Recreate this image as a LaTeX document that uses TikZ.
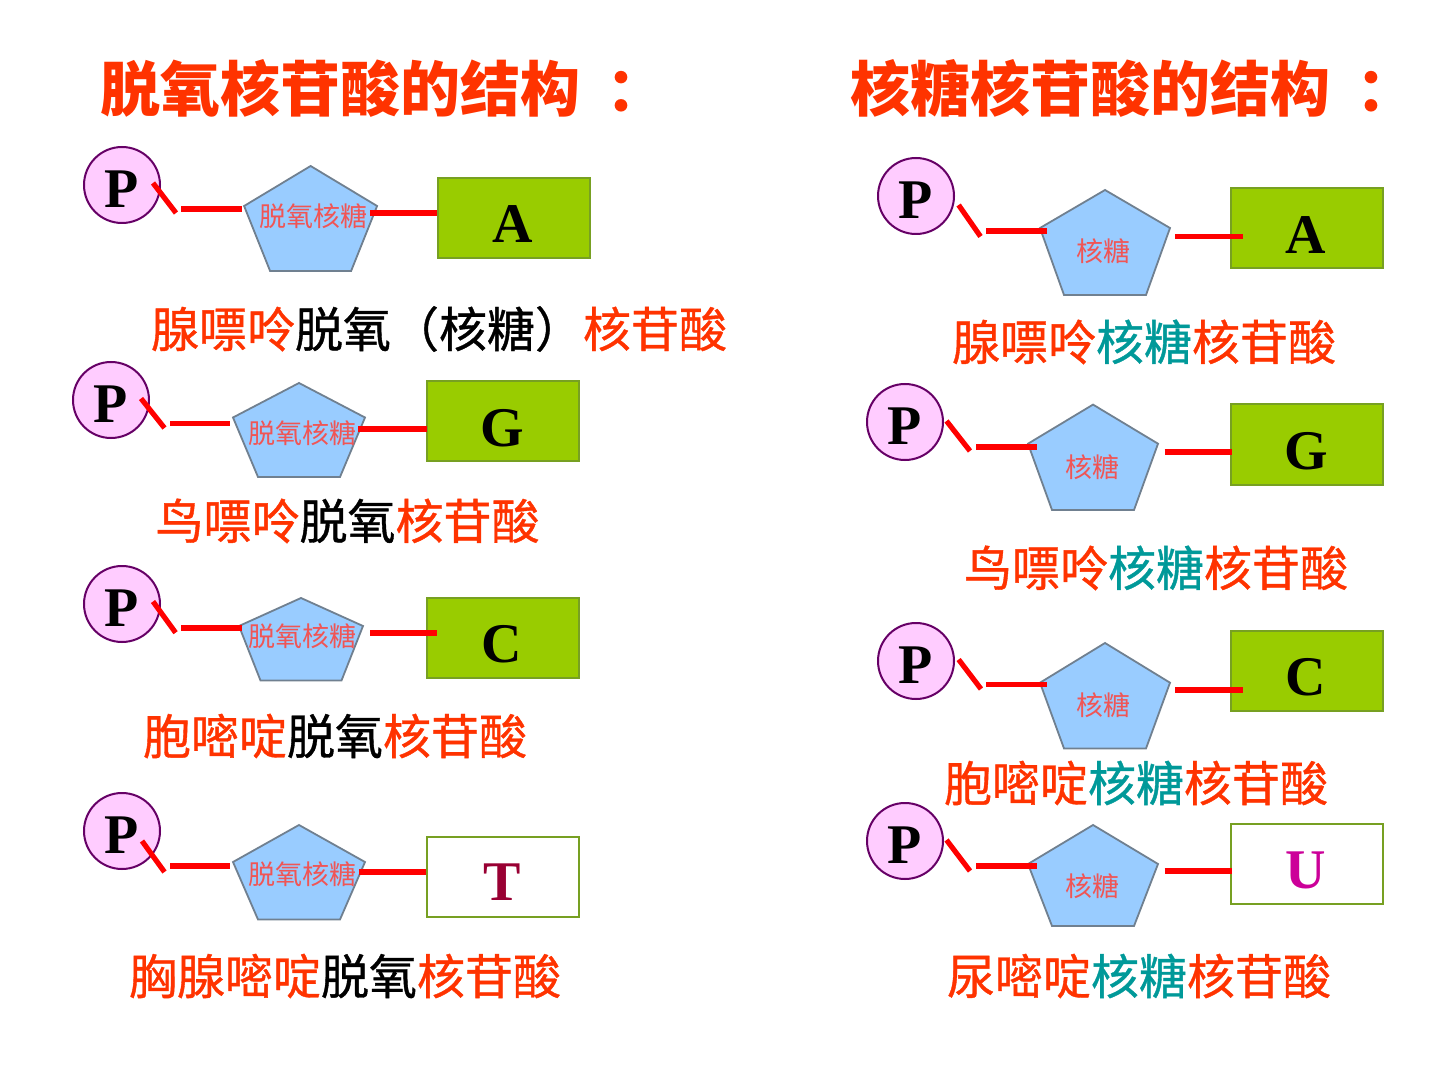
\documentclass[tikz,border=0pt]{standalone}
\usepackage{fontspec}
\setmainfont{Liberation Serif}
\newfontfamily\cjk{Noto Sans CJK SC}
\newfontfamily\cjkcap[FakeBold=0.8]{Noto Sans CJK SC}
\definecolor{tred}{RGB}{255,51,0}
\definecolor{tteal}{RGB}{0,153,153}
\definecolor{sugarlbl}{RGB}{240,85,85}
\definecolor{pfill}{RGB}{255,204,255}
\definecolor{pedge}{RGB}{102,0,102}
\definecolor{sfill}{RGB}{153,204,255}
\definecolor{sedge}{RGB}{112,128,144}
\definecolor{gfill}{RGB}{153,204,0}
\definecolor{gedge}{RGB}{119,160,34}
\definecolor{tcol}{RGB}{153,0,51}
\definecolor{ucol}{RGB}{204,0,153}
\tikzset{
  phos/.style={circle,draw=pedge,fill=pfill,line width=1pt,minimum size=38pt,inner sep=0pt},
  plet/.style={font=\bfseries\fontsize{28}{28}\selectfont,inner sep=0pt},
  bondline/.style={draw=red,line width=2.6pt},
  sugar/.style={draw=sedge,fill=sfill,line width=0.9pt},
  sugtxt/.style={font=\cjk\fontsize{13.5}{14}\selectfont,text=sugarlbl,inner sep=0pt},
  basebox/.style={draw=gedge,fill=gfill,line width=1pt,minimum width=76pt,minimum height=40pt,inner sep=0pt},
  pyrbox/.style={draw=gedge,fill=white,line width=1pt,minimum width=76pt,minimum height=40pt,inner sep=0pt},
  blet/.style={font=\bfseries\fontsize{28}{28}\selectfont,inner sep=0pt},
  captxt/.style={font=\cjkcap\fontsize{24}{26}\selectfont,inner sep=0pt},
  ttl/.style={font=\cjk\bfseries\fontsize{30}{32}\selectfont,text=tred,inner sep=0pt,anchor=west}
}
% bond segment: name, x1, y1, x2, y2
\newcommand\bondseg[5]{\coordinate (#1a) at (#2,#3); \coordinate (#1b) at (#4,#5); \draw[bondline] (#1a) -- (#1b);}
% pentagon: cx, top, side, bottom, half width, half bottom width
\newcommand\pentagon[6]{\draw[sugar] (#1,#2) -- (#1+#5,#3) -- (#1+#6,#4) -- (#1-#6,#4) -- (#1-#5,#3) -- cycle;}
\begin{document}
\begin{tikzpicture}[x=0.5pt,y=-0.5pt]
\useasboundingbox (0,0) rectangle (1440,1080);
\fill[white] (0,0) rectangle (1440,1080);

% titles
\node[ttl] (t1) at (100,88) {脱氧核苷酸的结构\kern13pt：};
\node[ttl] (t2) at (850,88) {核糖核苷酸的结构\kern13pt：};

% ---------- left column ----------
% row 1
\node[basebox] (b1) at (513.5,218) {};
\node[blet] (l1) at (513,224) {A};
\pentagon{310.6}{166}{206}{271}{66.5}{40.5}
\bondseg{s1l}{181}{209}{242}{209}
\bondseg{s1r}{370}{213}{437}{213}
\node[phos] (p1) at (122,185) {};
\node[plet] (q1) at (122,189) {P};
\bondseg{k1}{153}{183}{176}{213}
\node[sugtxt] (g1) at (313,216) {脱氧核糖};
\node[captxt] (c1) at (439,329) {\textcolor{tred}{腺嘌呤}脱氧（核糖）\textcolor{tred}{核苷酸}};

% row 2
\node[basebox] (b2) at (502.5,421.5) {};
\node[blet] (l2) at (502,428) {G};
\pentagon{299}{383}{417.5}{477}{66}{41}
\bondseg{s2l}{170}{423.7}{229.6}{423.7}
\bondseg{s2r}{358}{429}{427}{429}
\node[phos] (p2) at (111,400) {};
\node[plet] (q2) at (111,404) {P};
\bondseg{k2}{141}{398.5}{164.5}{428}
\node[sugtxt] (g2) at (302,433) {脱氧核糖};
\node[captxt] (c2) at (347.5,521) {\textcolor{tred}{鸟嘌呤}脱氧\textcolor{tred}{核苷酸}};

% row 3
\node[basebox] (b3) at (502.7,638) {};
\node[blet] (l3) at (502,644) {C};
\pentagon{301}{598}{626}{680.5}{62}{40.5}
\bondseg{s3l}{181}{628}{242}{628}
\bondseg{s3r}{370}{633}{437}{633}
\node[phos] (p3) at (122,604) {};
\node[plet] (q3) at (122,608) {P};
\bondseg{k3}{153}{601.5}{175.6}{632.7}
\node[sugtxt] (g3) at (302,636) {脱氧核糖};
\node[captxt] (c3) at (335,736) {\textcolor{tred}{胞嘧啶}脱氧\textcolor{tred}{核苷酸}};

% row 4
\node[pyrbox] (b4) at (502.5,876.5) {};
\node[blet,text=tcol] (l4) at (502,882) {T};
\pentagon{299}{825}{862}{919.5}{66}{41}
\bondseg{s4l}{170}{866}{230}{866}
\bondseg{s4r}{359}{872}{426}{872}
\node[phos] (p4) at (122,831) {};
\node[plet] (q4) at (122,835) {P};
\bondseg{k4}{142}{841}{164.5}{872}
\node[sugtxt] (g4) at (302,874) {脱氧核糖};
\node[captxt] (c4) at (345,976) {\textcolor{tred}{胸腺嘧啶}脱氧\textcolor{tred}{核苷酸}};

% ---------- right column ----------
% row 1
\node[basebox] (b5) at (1307,228.5) {};
\node[blet] (l5) at (1306,235) {A};
\pentagon{1105}{190}{228}{295}{65}{41}
\bondseg{s5l}{986}{231}{1047}{231}
\bondseg{s5r}{1175}{236.5}{1243}{236.5}
\node[phos] (p5) at (916,196) {};
\node[plet] (q5) at (916,200) {P};
\bondseg{k5}{958.6}{205}{980.5}{236.5}
\node[sugtxt] (g5) at (1103,251) {核糖};
\node[captxt] (c5) at (1144,342) {\textcolor{tred}{腺嘌呤}\textcolor{tteal}{核糖}\textcolor{tred}{核苷酸}};

% row 2
\node[basebox] (b6) at (1307,444.5) {};
\node[blet] (l6) at (1306,451) {G};
\pentagon{1093}{404.6}{443.7}{510}{65}{41}
\bondseg{s6l}{976}{447}{1036.5}{447}
\bondseg{s6r}{1164.6}{452}{1232}{452}
\node[phos] (p6) at (905,422) {};
\node[plet] (q6) at (905,426) {P};
\bondseg{k6}{946.5}{421}{970}{451}
\node[sugtxt] (g6) at (1092,467) {核糖};
\node[captxt] (c6) at (1156,568) {\textcolor{tred}{鸟嘌呤}\textcolor{tteal}{核糖}\textcolor{tred}{核苷酸}};

% row 3
\node[basebox] (b7) at (1307,671) {};
\node[blet] (l7) at (1306,677) {C};
\pentagon{1105}{643}{682.7}{748.5}{65}{41}
\bondseg{s7l}{986}{684.4}{1047}{684.4}
\bondseg{s7r}{1175}{690}{1243}{690}
\node[phos] (p7) at (916,661) {};
\node[plet] (q7) at (916,665) {P};
\bondseg{k7}{958.6}{659.5}{981}{689}
\node[sugtxt] (g7) at (1103,705) {核糖};
\node[captxt] (c7) at (1136,783) {\textcolor{tred}{胞嘧啶}\textcolor{tteal}{核糖}\textcolor{tred}{核苷酸}};

% row 4
\node[pyrbox] (b8) at (1307,864) {};
\node[blet,text=ucol] (l8) at (1306,870) {U};
\pentagon{1093}{825}{864}{926}{65}{41}
\bondseg{s8l}{976}{866}{1036.5}{866}
\bondseg{s8r}{1164.6}{871}{1232}{871}
\node[phos] (p8) at (905,841) {};
\node[plet] (q8) at (905,845) {P};
\bondseg{k8}{946.5}{840}{970}{871}
\node[sugtxt] (g8) at (1092,886) {核糖};
\node[captxt] (c8) at (1139,976) {\textcolor{tred}{尿嘧啶}\textcolor{tteal}{核糖}\textcolor{tred}{核苷酸}};
\end{tikzpicture}
\end{document}
